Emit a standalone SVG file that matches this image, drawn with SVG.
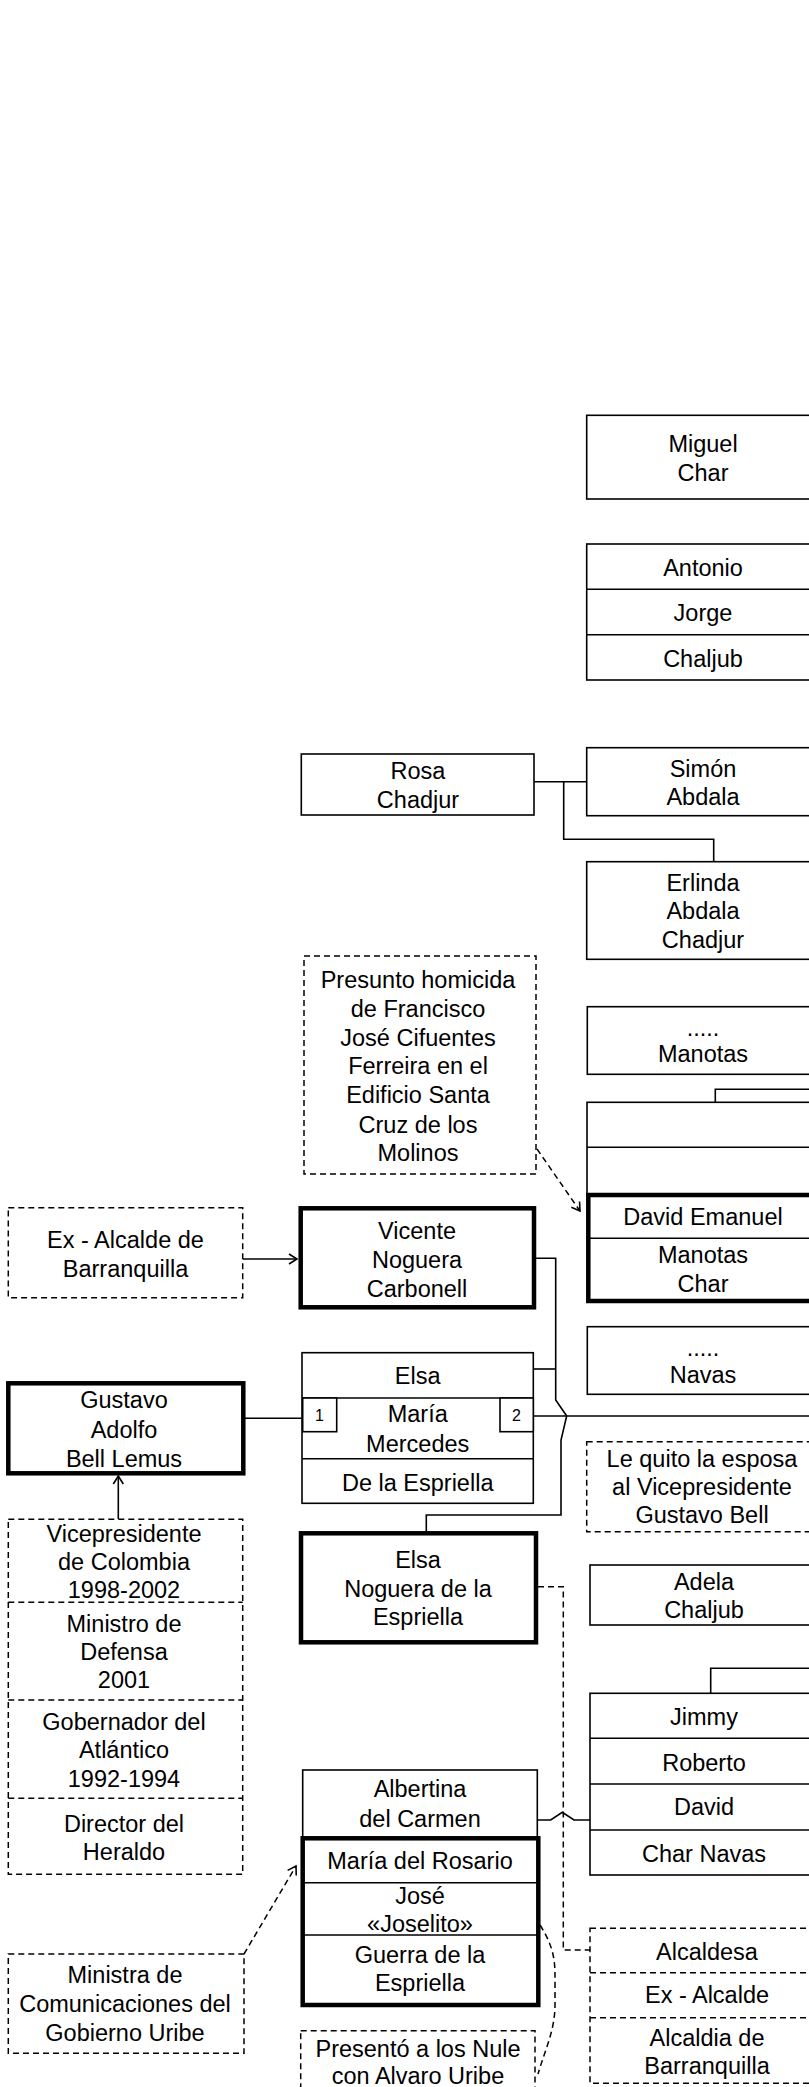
<svg xmlns="http://www.w3.org/2000/svg" width="809" height="2087" viewBox="0 0 809 2087">
<style>
.b{fill:#fff;stroke:#000;stroke-width:1.6}
.k{fill:#fff;stroke:#000;stroke-width:4.5}
.d{fill:#fff;stroke:#000;stroke-width:1.5;stroke-dasharray:6 4}
.ln{fill:none;stroke:#000;stroke-width:1.6}
.dl{fill:none;stroke:#000;stroke-width:1.5;stroke-dasharray:6 4}
.t{font-family:"Liberation Sans",Arial,sans-serif;font-size:23.5px;text-anchor:middle;fill:#000}
.s{font-family:"Liberation Sans",Arial,sans-serif;font-size:16px;text-anchor:middle;fill:#000}
</style>
<defs>
<marker id="ah" markerWidth="12" markerHeight="12" refX="10" refY="6" orient="auto" markerUnits="userSpaceOnUse">
<path d="M2,1 L10,6 L2,11" fill="none" stroke="#000" stroke-width="1.6"/>
</marker>
</defs>
<rect width="809" height="2087" fill="#fff"/>
<g id="connectors">
<path class="ln" d="M534,781.7 H586.7 M563.7,781.7 V839.3 H713.7 V861.7"/>
<path class="ln" d="M715.3,1102.3 V1089.3 H830"/>
<path class="ln" d="M534,1258.3 H555.7 V1400 L566.7,1416 L561,1440 V1515 H426.3 V1533"/>
<path class="ln" d="M533.3,1369 H555.7"/>
<path class="ln" d="M533.3,1416 H830"/>
<path class="ln" d="M243.3,1418.3 H302.7"/>
<path class="ln" d="M710.7,1693.3 V1668.3 H830"/>
<path class="ln" d="M537.3,1820 H550.7 L562.3,1812.3 L574,1820 H590"/>
<path class="dl" d="M538,1586.7 H563.3 V1950 H590"/>
<path class="dl" d="M540,1925 C556,1950 555,1965 555,1985 L555,2005 C555,2030 545,2050 538,2074"/>
<path class="ln" d="M242.7,1259 H297" marker-end="url(#ah)"/>
<path class="ln" d="M118.3,1519 V1476" marker-end="url(#ah)"/>
<path class="dl" d="M537,1149 L580,1211" marker-end="url(#ah)"/>
<path class="dl" d="M244,1954 L296,1866" marker-end="url(#ah)"/>
</g>
<g id="miguel"><rect class="b" x="586.7" y="415.3" width="232" height="83.7"/><text class="t" x="703" y="451.7">Miguel</text><text class="t" x="703" y="481">Char</text></g>
<g id="antonio"><rect class="b" x="586.7" y="544" width="232" height="136"/><path class="ln" d="M586.7,589.3 H818.7 M586.7,634.7 H818.7"/><text class="t" x="703" y="576">Antonio</text><text class="t" x="703" y="620.7">Jorge</text><text class="t" x="703" y="666.7">Chaljub</text></g>
<g id="rosa"><rect class="b" x="301.3" y="754" width="232.7" height="61"/><text class="t" x="418" y="779.3">Rosa</text><text class="t" x="418" y="808.3">Chadjur</text></g>
<g id="simon"><rect class="b" x="586.7" y="747.7" width="232" height="68"/><text class="t" x="703" y="776.7">Simón</text><text class="t" x="703" y="805.3">Abdala</text></g>
<g id="erlinda"><rect class="b" x="586.7" y="861.7" width="232" height="97.6"/><text class="t" x="703" y="890.7">Erlinda</text><text class="t" x="703" y="919.3">Abdala</text><text class="t" x="703" y="948.3">Chadjur</text></g>
<g id="presunto"><rect class="d" x="304" y="956" width="232" height="218"/><text class="t" x="418" y="987.7">Presunto homicida</text><text class="t" x="418" y="1016.7">de Francisco</text><text class="t" x="418" y="1045.5">José Cifuentes</text><text class="t" x="418" y="1074.3">Ferreira en el</text><text class="t" x="418" y="1103.3">Edificio Santa</text><text class="t" x="418" y="1132.5">Cruz de los</text><text class="t" x="418" y="1160.7">Molinos</text></g>
<g id="manotas"><rect class="b" x="587.3" y="1006.7" width="232" height="67.6"/><text class="t" x="703" y="1035.5">.....</text><text class="t" x="703" y="1062.3">Manotas</text></g>
<g id="david-emanuel"><rect class="b" x="587" y="1102.3" width="232" height="92.7"/><path class="ln" d="M587,1147.3 H819"/><rect class="k" x="588.3" y="1195" width="232" height="106"/><path class="ln" d="M588.3,1238.3 H820"/><text class="t" x="703" y="1225">David Emanuel</text><text class="t" x="703" y="1263.3">Manotas</text><text class="t" x="703" y="1291.7">Char</text></g>
<g id="navas"><rect class="b" x="587.3" y="1326.7" width="232" height="67.6"/><text class="t" x="703" y="1355.5">.....</text><text class="t" x="703" y="1383.3">Navas</text></g>
<g id="vicente"><rect class="k" x="300.7" y="1208.3" width="233.3" height="99"/><text class="t" x="417" y="1239">Vicente</text><text class="t" x="417" y="1267.7">Noguera</text><text class="t" x="417" y="1296.7">Carbonell</text></g>
<g id="ex-alcalde"><rect class="d" x="8.3" y="1207.7" width="234.4" height="90"/><text class="t" x="125.5" y="1247.7">Ex - Alcalde de</text><text class="t" x="125.5" y="1276.7">Barranquilla</text></g>
<g id="elsa-maria"><rect class="b" x="302" y="1352.7" width="231.3" height="150.6"/><path class="ln" d="M302,1398 H533.3 M302,1458.7 H533.3"/><rect class="b" x="302.7" y="1398" width="34" height="33.7"/><rect class="b" x="500" y="1398" width="33.3" height="33.7"/><text class="t" x="417.7" y="1384">Elsa</text><text class="t" x="417.7" y="1422.3">María</text><text class="t" x="417.7" y="1451.7">Mercedes</text><text class="t" x="417.7" y="1490.7">De la Espriella</text><text class="s" x="319.5" y="1421">1</text><text class="s" x="516.5" y="1421">2</text></g>
<g id="gustavo"><rect class="k" x="8.3" y="1383.3" width="235" height="90"/><text class="t" x="124" y="1408.3">Gustavo</text><text class="t" x="124" y="1438.3">Adolfo</text><text class="t" x="124" y="1466.7">Bell Lemus</text></g>
<g id="cargos-bell"><rect class="d" x="8.3" y="1519.3" width="234.4" height="355"/><path class="dl" d="M8.3,1602.3 H242.7 M8.3,1700 H242.7 M8.3,1798.3 H242.7"/><text class="t" x="124" y="1541.7">Vicepresidente</text><text class="t" x="124" y="1570">de Colombia</text><text class="t" x="124" y="1598.3">1998-2002</text><text class="t" x="124" y="1631.7">Ministro de</text><text class="t" x="124" y="1660">Defensa</text><text class="t" x="124" y="1688.3">2001</text><text class="t" x="124" y="1730">Gobernador del</text><text class="t" x="124" y="1758.3">Atlántico</text><text class="t" x="124" y="1786.5">1992-1994</text><text class="t" x="124" y="1831.7">Director del</text><text class="t" x="124" y="1860">Heraldo</text></g>
<g id="le-quito"><rect class="d" x="586.7" y="1441.7" width="232" height="90"/><text class="t" x="702" y="1466.7">Le quito la esposa</text><text class="t" x="702" y="1495">al Vicepresidente</text><text class="t" x="702" y="1523.3">Gustavo Bell</text></g>
<g id="elsa-noguera"><rect class="k" x="301" y="1533.3" width="235" height="109"/><text class="t" x="418" y="1568.3">Elsa</text><text class="t" x="418" y="1596.7">Noguera de la</text><text class="t" x="418" y="1625">Espriella</text></g>
<g id="adela"><rect class="b" x="590" y="1565" width="232" height="60"/><text class="t" x="704" y="1590">Adela</text><text class="t" x="704" y="1618.3">Chaljub</text></g>
<g id="jimmy"><rect class="b" x="590" y="1693.3" width="232" height="181.7"/><path class="ln" d="M590,1738.3 H822 M590,1784 H822 M590,1830 H822"/><text class="t" x="704" y="1725">Jimmy</text><text class="t" x="704" y="1771">Roberto</text><text class="t" x="704" y="1815">David</text><text class="t" x="704" y="1861.7">Char Navas</text></g>
<g id="albertina"><rect class="b" x="302.7" y="1770" width="234.6" height="68.3"/><text class="t" x="420" y="1797.3">Albertina</text><text class="t" x="420" y="1826.7">del Carmen</text></g>
<g id="maria-rosario"><rect class="k" x="302.7" y="1838.3" width="235.6" height="166.7"/><path class="ln" d="M302.7,1882.7 H538.3 M302.7,1935 H538.3"/><text class="t" x="420" y="1869.3">María del Rosario</text><text class="t" x="420" y="1904">José</text><text class="t" x="420" y="1931.7">«Joselito»</text><text class="t" x="420" y="1963.3">Guerra de la</text><text class="t" x="420" y="1990.7">Espriella</text></g>
<g id="ministra"><rect class="d" x="8.3" y="1954" width="235.7" height="99.3"/><text class="t" x="125" y="1983.3">Ministra de</text><text class="t" x="125" y="2011.7">Comunicaciones del</text><text class="t" x="125" y="2040.7">Gobierno Uribe</text></g>
<g id="presento"><rect class="d" x="300.7" y="2030.7" width="234.3" height="90"/><text class="t" x="418" y="2057">Presentó a los Nule</text><text class="t" x="418" y="2084">con Alvaro Uribe</text></g>
<g id="alcaldesa"><rect class="d" x="590" y="1928.3" width="232" height="155"/><path class="dl" d="M590,1972.7 H822 M590,2017.7 H822"/><text class="t" x="707" y="1960">Alcaldesa</text><text class="t" x="707" y="2003.3">Ex - Alcalde</text><text class="t" x="707" y="2045.7">Alcaldia de</text><text class="t" x="707" y="2074.3">Barranquilla</text></g>
</svg>
